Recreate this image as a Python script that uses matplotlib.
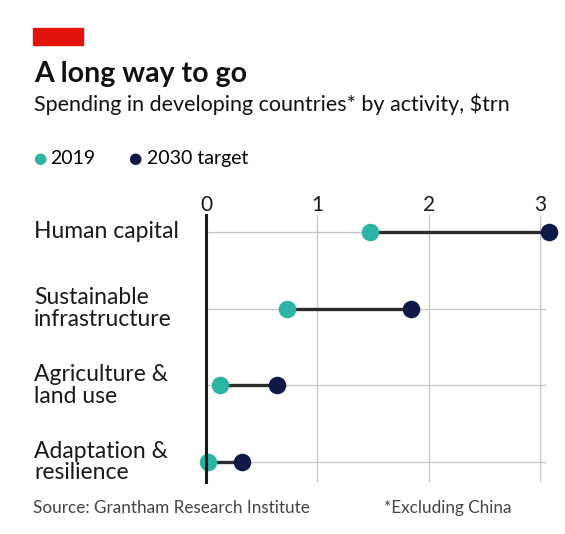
import numpy as np
import matplotlib.pyplot as plt

plt.rcParams['font.family'] = ['Lato', 'DejaVu Sans']

# Data ($trn)
categories = ["Human capital", "Sustainable\ninfrastructure",
              "Agriculture &\nland use", "Adaptation &\nresilience"]
spend_2019 = [1.47, 0.73, 0.13, 0.02]
target_2030 = [3.08, 1.84, 0.64, 0.32]
x_ticks = [0, 1, 2, 3]

TEAL = "#2bb3a3"
NAVY = "#0e1947"

fig = plt.figure(figsize=(5.65, 5.34), dpi=100)
fig.patch.set_facecolor("white")

ax = fig.add_axes([0.3646, 0.0974, 0.601, 0.50])
ypos = np.arange(len(categories))[::-1]

for y, a, b in zip(ypos, spend_2019, target_2030):
    ax.plot([a, b], [y, y], color="#2b2b2b", lw=2.4, zorder=3, solid_capstyle="butt")
ax.scatter(spend_2019, ypos, s=160, color=TEAL, zorder=4, clip_on=False, linewidths=0)
ax.scatter(target_2030, ypos, s=160, color=NAVY, zorder=4, clip_on=False, linewidths=0)

for y in ypos:
    ax.axhline(y, color="#c4c4c4", lw=0.9, zorder=1)

ax.set_xlim(0, 3.05)
ax.set_ylim(-0.26, 3.22)
ax.set_xticks(x_ticks)
ax.set_xticklabels([str(t) for t in x_ticks])
ax.xaxis.tick_top()
ax.tick_params(axis="x", length=0, labelsize=15, pad=0, colors="#1a1a1a")
ax.set_yticks([])
ax.grid(axis="x", color="#c4c4c4", lw=0.9, zorder=0)
for s in ["top", "right", "bottom"]:
    ax.spines[s].set_visible(False)
ax.spines["left"].set_linewidth(2.2)
ax.spines["left"].set_color("#1a1a1a")
ax.spines["left"].set_zorder(5)

# category labels
for y, lab in zip(ypos, categories):
    yd = ax.transData.transform((0, y))[1]
    fig.text(34 / 565, yd / 534, lab, ha="left", va="center",
             fontsize=16.5, color="#1a1a1a", linespacing=1.05)

# header
fig.patches.append(plt.Rectangle((33 / 565, 1 - 45 / 534), 50 / 565, 17 / 534,
                                 transform=fig.transFigure, color="#e3120b"))
fig.text(34 / 565, 1 - 74 / 534, "A long way to go", fontsize=20.5,
         fontweight="bold", va="center", ha="left", color="#111111")
fig.text(34 / 565, 1 - 104 / 534, "Spending in developing countries* by activity, $trn",
         fontsize=15.5, va="center", ha="left", color="#111111")

# legend
fig.text(40 / 565, 1 - 158 / 534, "\u25CF", color=TEAL, fontsize=11,
         va="center", ha="center", family="DejaVu Sans")
fig.text(50 / 565, 1 - 158 / 534, "2019", fontsize=14, va="center", ha="left")
fig.text(135 / 565, 1 - 158 / 534, "\u25CF", color=NAVY, fontsize=11,
         va="center", ha="center", family="DejaVu Sans")
fig.text(147 / 565, 1 - 158 / 534, "2030 target", fontsize=14, va="center", ha="left")

# footer
fig.text(33 / 565, 1 - 508 / 534, "Source: Grantham Research Institute",
         fontsize=12.3, color="#444444", va="center", ha="left")
fig.text(512 / 565, 1 - 508 / 534, "*Excluding China",
         fontsize=12.3, color="#444444", va="center", ha="right")

fig.savefig("out.png", dpi=100)
